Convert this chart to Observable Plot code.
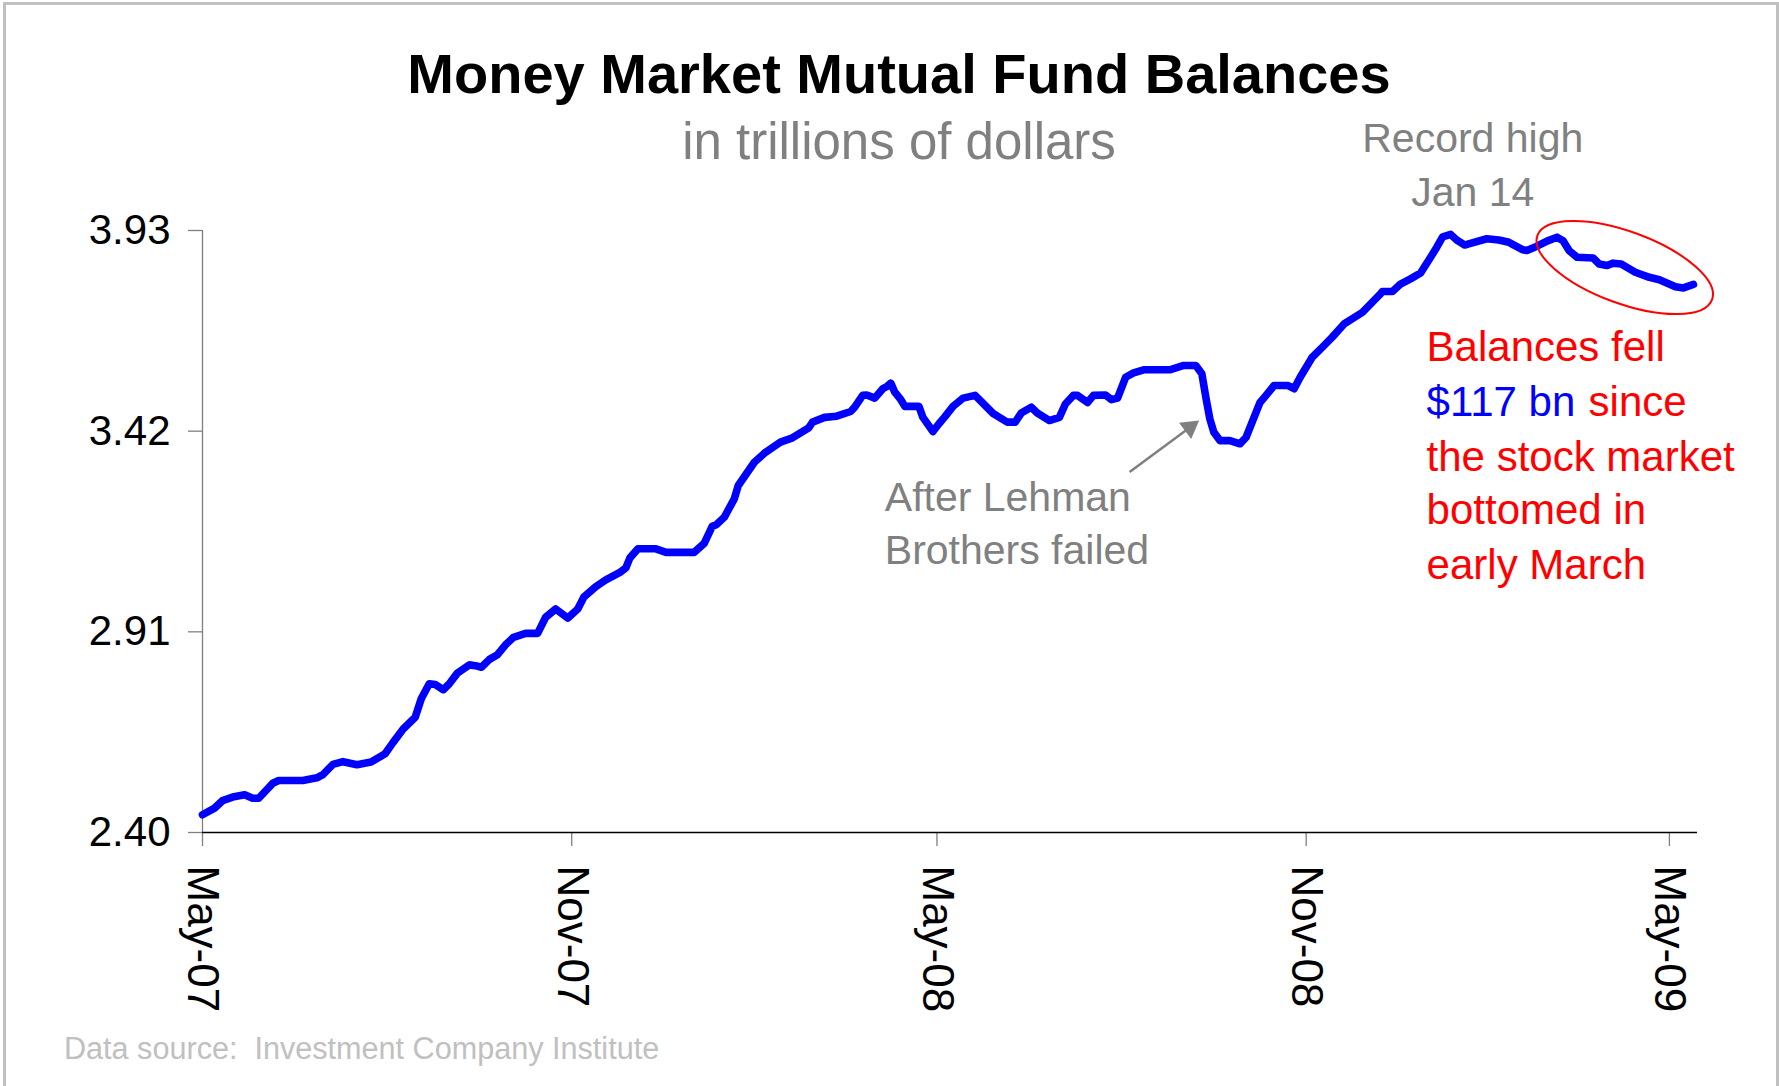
<!DOCTYPE html>
<html>
<head>
<meta charset="utf-8">
<script src="https://cdn.jsdelivr.net/npm/d3@7"></script>
<script src="https://cdn.jsdelivr.net/npm/@observablehq/plot@0.6"></script>
<style>
  html, body { margin: 0; padding: 0; background: #fff; }
  #wrap { position: relative; width: 1779px; height: 1086px; overflow: hidden; background: #fff;
          font-family: "Liberation Sans", Arial, Helvetica, sans-serif; }
  #frame { position: absolute; left: 3px; top: 2px; width: 1770px; height: 1200px;
           border: 3px solid #c0c0c0; border-bottom: none; pointer-events: none; }
  #chart { position: absolute; left: 0; top: 0; }
  .title { position: absolute; left: 899px; top: 46px; transform: translateX(-50%);
           font-size: 56px; font-weight: 700; line-height: 1; white-space: nowrap; color: #000; }
  .subtitle { position: absolute; left: 899px; top: 116px; transform: translateX(-50%);
              font-size: 51px; line-height: 1; white-space: nowrap; color: #808080; }
  .caption { position: absolute; left: 64px; top: 1033px; font-size: 30.6px; line-height: 1;
             white-space: pre; color: #c0c0c0; }
</style>
</head>
<body>
<div id="wrap">
  <div id="frame"></div>
  <div id="chart"></div>
  <div class="title">Money Market Mutual Fund Balances</div>
  <div class="subtitle">in trillions of dollars</div>
  <div class="caption">Data source:  Investment Company Institute</div>
</div>
<script>
// ---- Data (trillions of dollars) ----
const dates = [
  "2007-05-01","2007-05-07","2007-05-11","2007-05-16","2007-05-22","2007-05-26","2007-05-29",
  "2007-06-05","2007-06-08","2007-06-20","2007-06-27","2007-06-30",
  "2007-07-05","2007-07-10","2007-07-17","2007-07-24","2007-07-31",
  "2007-08-04","2007-08-09","2007-08-15","2007-08-18","2007-08-22","2007-08-25","2007-08-29",
  "2007-09-01","2007-09-05","2007-09-11","2007-09-14","2007-09-17","2007-09-21","2007-09-25","2007-09-29",
  "2007-10-03","2007-10-09","2007-10-15","2007-10-19","2007-10-24","2007-10-30",
  "2007-11-04","2007-11-07","2007-11-13","2007-11-18","2007-11-25","2007-11-28","2007-11-30",
  "2007-12-04","2007-12-13","2007-12-18",
  "2008-01-01","2008-01-06","2008-01-10","2008-01-12","2008-01-16","2008-01-21","2008-01-23","2008-01-31",
  "2008-02-05","2008-02-13","2008-02-19","2008-02-27","2008-02-29",
  "2008-03-06","2008-03-12","2008-03-19","2008-03-21","2008-03-25","2008-03-27","2008-03-31",
  "2008-04-04","2008-04-06","2008-04-08","2008-04-10","2008-04-13","2008-04-15","2008-04-22","2008-04-24","2008-04-29",
  "2008-05-02","2008-05-05","2008-05-09","2008-05-14","2008-05-20","2008-05-29",
  "2008-06-05","2008-06-09","2008-06-12","2008-06-17","2008-06-20","2008-06-26",
  "2008-07-01","2008-07-04","2008-07-08","2008-07-10","2008-07-15","2008-07-18","2008-07-24","2008-07-27","2008-07-30",
  "2008-08-03","2008-08-07","2008-08-12","2008-08-25",
  "2008-09-01","2008-09-07","2008-09-10","2008-09-12","2008-09-14","2008-09-16","2008-09-19","2008-09-24","2008-09-29",
  "2008-10-02","2008-10-09","2008-10-12","2008-10-16","2008-10-23","2008-10-26","2008-10-29",
  "2008-11-04","2008-11-09","2008-11-14","2008-11-20","2008-11-29",
  "2008-12-08","2008-12-09","2008-12-14","2008-12-18","2008-12-23","2008-12-28",
  "2009-01-02","2009-01-05","2009-01-08","2009-01-12","2009-01-15","2009-01-19","2009-01-21","2009-01-30",
  "2009-02-05","2009-02-10","2009-02-17","2009-02-19","2009-02-24",
  "2009-03-01","2009-03-06","2009-03-09","2009-03-12","2009-03-16","2009-03-24","2009-03-27","2009-03-31",
  "2009-04-03","2009-04-07","2009-04-14","2009-04-21","2009-04-26",
  "2009-05-04","2009-05-08","2009-05-13"
];
const balances = [
  2.445,2.462,2.481,2.490,2.496,2.487,2.487,
  2.525,2.532,2.532,2.539,2.547,
  2.573,2.580,2.572,2.579,2.600,
  2.629,2.663,2.693,2.740,2.778,2.776,2.763,
  2.778,2.805,2.826,2.824,2.820,2.840,2.852,2.877,
  2.896,2.906,2.906,2.947,2.968,2.945,
  2.968,2.998,3.025,3.042,3.061,3.073,3.098,
  3.121,3.121,3.112,
  3.112,3.135,3.178,3.182,3.201,3.248,3.282,3.341,
  3.364,3.392,3.403,3.428,3.443,
  3.455,3.458,3.470,3.481,3.511,3.512,3.504,
  3.528,3.533,3.542,3.519,3.500,3.483,3.483,3.455,3.419,
  3.439,3.457,3.483,3.504,3.511,3.465,
  3.443,3.443,3.466,3.481,3.466,3.447,
  3.455,3.489,3.511,3.511,3.493,3.511,3.512,3.500,3.504,
  3.557,3.568,3.576,3.576,
  3.587,3.587,3.566,3.506,3.451,3.417,3.396,3.396,3.388,
  3.404,3.493,3.511,3.536,3.536,3.528,3.557,
  3.608,3.633,3.659,3.693,3.722,
  3.769,3.775,3.775,3.794,3.807,3.822,
  3.862,3.887,3.914,3.920,3.906,3.893,3.896,3.909,
  3.906,3.900,3.881,3.879,3.890,
  3.903,3.913,3.904,3.879,3.862,3.860,3.845,3.841,
  3.847,3.845,3.824,3.811,3.805,
  3.787,3.784,3.793
];

// ---- Axis ticks ----
const yTicks = [2.40, 2.91, 3.42, 3.93];
const xTicks = ["2007-05-01", "2007-11-01", "2008-05-01", "2008-11-01", "2009-05-01"];
const xDomain = ["2007-05-01", "2009-05-15"];
const yDomain = [2.40, 3.93];

// ---- Annotations (in data coordinates) ----
const recordNote = [
  {date: "2009-01-23", value: 4.129, text: "Record high"},
  {date: "2009-01-23", value: 3.993, text: "Jan 14"}
];
const lehmanNote = [
  {date: "2008-04-05", value: 3.218, text: "After Lehman"},
  {date: "2008-04-05", value: 3.083, text: "Brothers failed"}
];
const lehmanArrow = {fromDate: "2008-08-05", fromValue: 3.316, headDate: "2008-09-04", headValue: 3.4294};
const fellRed = [
  {date: "2008-12-31", value: 3.5995, text: "Balances fell"},
  {date: "2008-12-31", value: 3.3199, text: "the stock market"},
  {date: "2008-12-31", value: 3.1845, text: "bottomed in"},
  {date: "2008-12-31", value: 3.0447, text: "early March"}
];
const fellBlue = [{date: "2008-12-31", value: 3.4597, text: "$117 bn"}];
const fellSince = [{date: "2008-12-31", value: 3.4597, text: "since"}];
const ellipseNote = {date: "2009-04-09", value: 3.8347};

const D = s => new Date(s + "T00:00:00Z");
const data = dates.map((d, i) => ({date: D(d), value: balances[i]}));
const prep = arr => arr.map(o => ({...o, date: D(o.date)}));

const FONT = '"Liberation Sans", Arial, Helvetica, sans-serif';

const chart = Plot.plot({
  width: 1779,
  height: 1086,
  marginTop: 230,
  marginBottom: 254,
  marginLeft: 202,
  marginRight: 82,
  style: {fontFamily: FONT, background: "transparent", overflow: "visible", color: "#000"},
  x: {type: "utc", domain: xDomain.map(D), label: null},
  y: {domain: yDomain, label: null},
  marks: [
    Plot.axisY({ticks: yTicks, tickFormat: d => d.toFixed(2), tickSize: 14, tickPadding: 18,
                fontSize: 42, stroke: "#808080", fill: "#000", strokeWidth: 1.3, label: null}),
    Plot.axisX({ticks: xTicks.map(D), tickFormat: d3.utcFormat("%b-%y"), tickSize: 14, tickPadding: 19,
                tickRotate: 90, fontSize: 44, stroke: "#808080", fill: "#000", strokeWidth: 1.3, label: null}),
    Plot.ruleX([D(xDomain[0])], {stroke: "#808080", strokeWidth: 1.3}),
    Plot.ruleY([yDomain[0]], {stroke: "#000", strokeWidth: 1.6}),
    Plot.lineY(data, {x: "date", y: "value", stroke: "#0000ff", strokeWidth: 7.6, strokeLinejoin: "round"}),
    Plot.text(prep(recordNote), {x: "date", y: "value", text: "text", textAnchor: "middle", lineAnchor: "bottom",
                                 fill: "#808080", fontSize: 41}),
    Plot.text(prep(lehmanNote), {x: "date", y: "value", text: "text", textAnchor: "start", lineAnchor: "bottom",
                                 fill: "#808080", fontSize: 41}),
    Plot.link([lehmanArrow], {x1: d => D(d.fromDate), y1: "fromValue", x2: d => D(d.headDate), y2: "headValue",
                              stroke: "#808080", strokeWidth: 2.5}),
    Plot.dot([lehmanArrow], {x: d => D(d.headDate), y: "headValue", symbol: "triangle", r: 7.5, rotate: 53.2,
                             fill: "#808080", stroke: "none"}),
    Plot.text(prep(fellRed), {x: "date", y: "value", text: "text", textAnchor: "start", lineAnchor: "bottom",
                              fill: "#ff0000", fontSize: 42}),
    Plot.text(prep(fellBlue), {x: "date", y: "value", text: "text", textAnchor: "start", lineAnchor: "bottom",
                               fill: "#0000ff", fontSize: 42}),
    Plot.text(prep(fellSince), {x: "date", y: "value", text: "text", textAnchor: "start", lineAnchor: "bottom",
                                fill: "#ff0000", fontSize: 42, dx: 162})
  ]
});

document.getElementById("chart").appendChild(chart);

// Red hand-drawn ellipse around the post-March decline, placed through the plot's scales
let sx, sy;
try {
  const X = chart.scale("x"), Y = chart.scale("y");
  sx = X.apply ? (v => X.apply(v)) : null;
  sy = Y.apply ? (v => Y.apply(v)) : null;
} catch (e) {}
if (!sx) sx = d3.scaleUtc(xDomain.map(D), [202, 1779 - 82]);
if (!sy) sy = d3.scaleLinear(yDomain, [1086 - 254, 230]);
const cx = sx(D(ellipseNote.date)), cy = sy(ellipseNote.value);
d3.select(chart).append("ellipse")
  .attr("cx", cx).attr("cy", cy).attr("rx", 93).attr("ry", 36)
  .attr("transform", `rotate(20.2 ${cx} ${cy})`)
  .attr("fill", "none").attr("stroke", "#ff0000").attr("stroke-width", 2);
</script>
</body>
</html>
